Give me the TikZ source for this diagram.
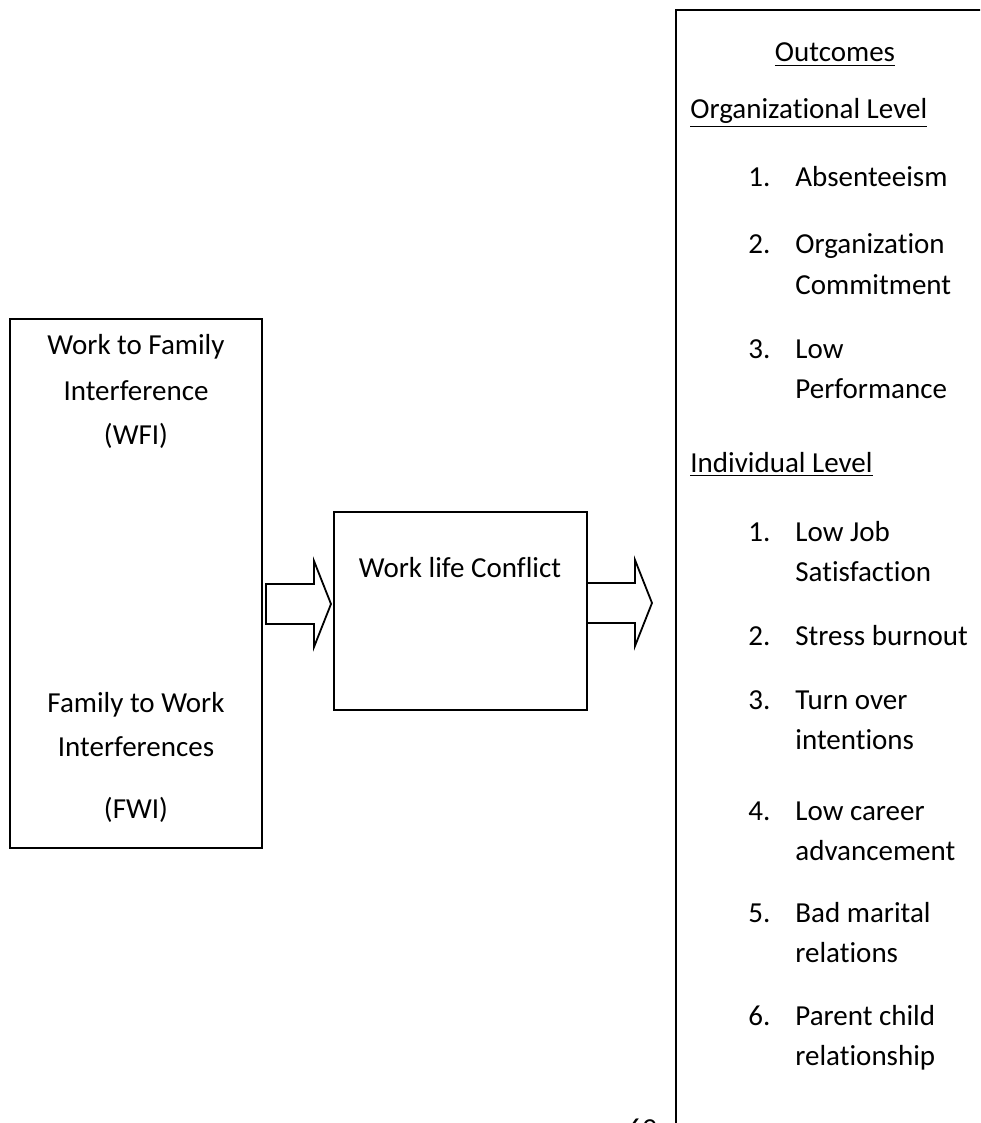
\documentclass[tikz,border=0pt]{standalone}
\usepackage{fontspec}
\setmainfont{Carlito}[Ligatures = {NoCommon, NoContextual, NoRequired}, RawFeature = {-liga;-clig;-calt;-dlig}]
\usetikzlibrary{positioning}
\tikzset{box/.style = {draw, line width = 1pt, inner sep = 0}}
\tikzset{txt/.style = {font = \fontsize{14.5}{20}\selectfont, inner sep = 0}}
\newcommand{\blockarrow}[1]{%
  \draw [line width = 0.9pt, line join = miter]
    ([yshift = 10pt]#1) -- ++(48, 0) -- ++(0, -23) -- ++(17, 43)
    -- ++(-17, 43) -- ++(0, -23) -- ++(-48, 0) -- cycle;}

\begin{document}
\begin{tikzpicture}[x = 0.5pt, y = -0.5pt]
          \useasboundingbox (0, 0) rectangle (980, 1123);
          \clip (0, 0) rectangle (980, 1123);
          % boxes
          \node [box, minimum width = 126pt, minimum height = 264.5pt] (fam) at (136, 583.5) {};
          \node [box, minimum width = 126.5pt, minimum height = 99pt] (wlc) at (460.5, 611) {};
          \node [box, minimum width = 170pt, minimum height = 570pt] (outc) at (846, 580) {};
          % left box
          \foreach \y/\t [count = \i] in {354/Work to Family, 400/Interference, 444/(WFI),
                                          712/Family to Work, 756/Interferences, 818/(FWI)}{
            \node [txt, anchor = base] (famtxt\i) at (136, \y) {\t};
          }
          \node [txt, anchor = base] (wlctxt) at (460, 577) {Work life Conflict};
          % arrows
          \coordinate (arra) at (266, 604);
          \coordinate (arrb) at (587, 603);
          \blockarrow{arra}
          \blockarrow{arrb}
          % outcomes
          \node [txt, anchor = base] (outctitle) at (835, 62) {\underline{Outcomes}};
          \node [txt, anchor = base west] (orglvl) at (690, 119) {\underline{Organizational Level}};
          \node [txt, anchor = base west] (indlvl) at (690, 472) {\underline{Individual Level}};
          \foreach \y/\n/\a/\b in {187/1/Absenteeism/, 254/2/Organization/Commitment,
                                   358/3/Low/Performance}{
            \node [txt, anchor = base west] (orgnum\n) at (748, \y) {\n.};
            \node [txt, anchor = base west] (orga\n) at (795, \y) {\a};
            \node [txt, anchor = base west] (orgb\n) at (795, \y + 40) {\b};
          }
          \foreach \y/\n/\a/\b in {541/1/Low Job/Satisfaction, 645/2/Stress burnout/,
                                   709/3/Turn over/intentions, 820/4/Low career/advancement,
                                   922/5/Bad marital/relations, 1025/6/Parent child/relationship}{
            \node [txt, anchor = base west] (indnum\n) at (748, \y) {\n.};
            \node [txt, anchor = base west] (inda\n) at (795, \y) {\a};
            \node [txt, anchor = base west] (indb\n) at (795, \y + 40) {\b};
          }
          \node [txt, anchor = base] (pagenum) at (642, 1138) {69};
        \end{tikzpicture}
\end{document}
